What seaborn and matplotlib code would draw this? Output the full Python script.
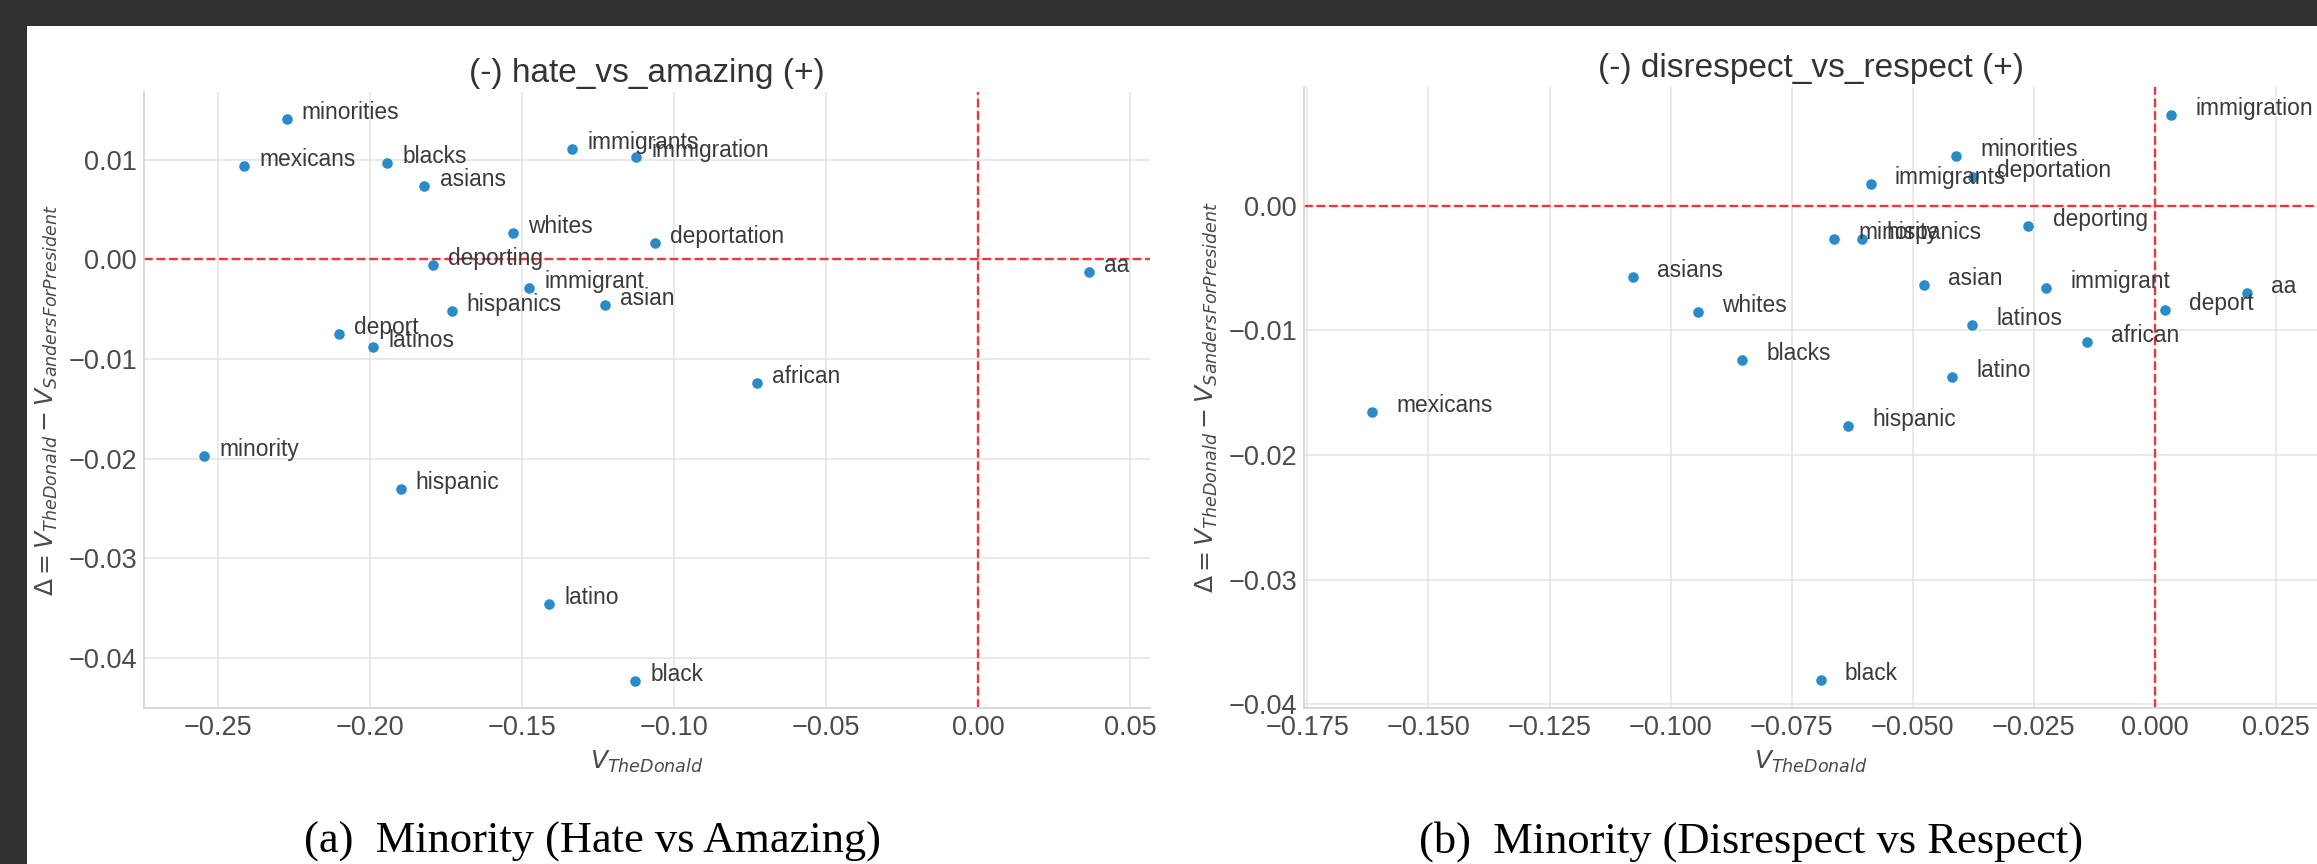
import matplotlib
matplotlib.use("Agg")
import matplotlib.pyplot as plt
from matplotlib.patches import Rectangle
import seaborn as sns

# ── Data ───────────────────────────────────────────────────────────────────────

words_a = ["minorities", "mexicans", "blacks", "asians", "immigrants", "immigration",
           "whites", "deportation", "deporting", "immigrant", "asian", "hispanics",
           "deport", "latinos", "african", "aa", "minority", "hispanic", "latino", "black"]
v_donald_a = [-0.2274, -0.2414, -0.1943, -0.1821, -0.1335, -0.1124,
              -0.1529, -0.1063, -0.1792, -0.1476, -0.1228, -0.1731,
              -0.2103, -0.1989, -0.0727, 0.0364, -0.2546, -0.1899, -0.1410, -0.1128]
delta_a = [0.01406, 0.00931, 0.00965, 0.00737, 0.01101, 0.01025,
           0.00259, 0.00165, -0.00062, -0.00293, -0.00459, -0.00520,
           -0.00754, -0.00878, -0.01242, -0.00125, -0.01971, -0.02305, -0.03455, -0.04225]

words_b = ["immigration", "minorities", "deportation", "immigrants", "deporting",
           "minority", "hispanics", "asians", "asian", "immigrant", "aa", "deport",
           "whites", "latinos", "african", "blacks", "latino", "mexicans", "hispanic", "black"]
v_donald_b = [0.0034, -0.0411, -0.0376, -0.0587, -0.0261,
              -0.0663, -0.0605, -0.1078, -0.0477, -0.0225, 0.0190, 0.0021,
              -0.0944, -0.0377, -0.0140, -0.0852, -0.0418, -0.1617, -0.0634, -0.0690]
delta_b = [0.00725, 0.00402, 0.00233, 0.00172, -0.00164,
           -0.00265, -0.00265, -0.00572, -0.00637, -0.00663, -0.00703, -0.00837,
           -0.00856, -0.00955, -0.01092, -0.01236, -0.01375, -0.01658, -0.01768, -0.03807]

xticks_a = [-0.25, -0.20, -0.15, -0.10, -0.05, 0.00, 0.05]
yticks_a = [-0.04, -0.03, -0.02, -0.01, 0.00, 0.01]
xticks_b = [-0.175, -0.150, -0.125, -0.100, -0.075, -0.050, -0.025, 0.000, 0.025]
yticks_b = [-0.04, -0.03, -0.02, -0.01, 0.00]

titles = ["(-) hate_vs_amazing (+)", "(-) disrespect_vs_respect (+)"]
captions = ["(a)  Minority (Hate vs Amazing)", "(b)  Minority (Disrespect vs Respect)"]

# ── Style ──────────────────────────────────────────────────────────────────────

sns.set_theme(style="whitegrid")
plt.rcParams["font.family"] = ["Liberation Sans", "DejaVu Sans"]
plt.rcParams["mathtext.fontset"] = "dejavusans"
plt.rcParams["axes.edgecolor"] = "#d6d6d6"
plt.rcParams["grid.color"] = "#e3e3e3"

DOT = "#2a8bc8"
RED = "#e8383d"
GRAY = "#4a4a4a"
W, H = 2317, 864

fig = plt.figure(figsize=(W / 100, H / 100), dpi=100)
fig.patch.set_facecolor("white")

ax_a = fig.add_axes([144 / W, 1 - 708 / H, (1150 - 144) / W, (708 - 91.7) / H])
ax_b = fig.add_axes([1304 / W, 1 - 708 / H, (W - 1304) / W, (708 - 87) / H])

panels = [
    (ax_a, words_a, v_donald_a, delta_a, xticks_a, yticks_a, (-0.2743, 0.0566), (-0.0450, 0.0168)),
    (ax_b, words_b, v_donald_b, delta_b, xticks_b, yticks_b, (-0.1757, 0.0335), (-0.0403, 0.00953)),
]

for i, (ax, words, xs, ys, xt, yt, xlim, ylim) in enumerate(panels):
    sns.scatterplot(x=xs, y=ys, ax=ax, color=DOT, s=58, linewidth=0, zorder=3)
    for w, x, y in zip(words, xs, ys):
        ax.text(x + 0.005, y, w, fontsize=16.4, color="#3a3a3a", va="baseline",
                ha="left", zorder=4, clip_on=False)
    ax.axhline(0, color=RED, ls="--", lw=1.7, zorder=2)
    ax.axvline(0, color=RED, ls="--", lw=1.7, zorder=2)

    ax.set_xticks(xt)
    ax.set_yticks(yt)
    ax.set_xlim(*xlim)
    ax.set_ylim(*ylim)
    ax.tick_params(labelsize=19.5, colors=GRAY, pad=5, length=0)
    ax.grid(True, lw=1.1)
    sns.despine(ax=ax)
    for side in ("left", "bottom"):
        ax.spines[side].set_linewidth(1.3)

    ax.set_title(titles[i], fontsize=24, color="#333333", pad=7)
    ax.set_xlabel(r"$V_{TheDonald}$", fontsize=18, color=GRAY, labelpad=6)
    ax.set_ylabel(r"$\Delta = V_{TheDonald} - V_{SandersForPresident}$",
                  fontsize=18, color=GRAY, labelpad=6)

# captions in serif below each panel
fig.text(592 / W, 11 / H, captions[0], family="Liberation Serif", fontsize=32,
         ha="center", va="baseline", color="black")
fig.text(1751 / W, 11 / H, captions[1], family="Liberation Serif", fontsize=32,
         ha="center", va="baseline", color="black")

# dark frame from the screenshot
fig.add_artist(Rectangle((0, 1 - 26 / H), 1, 26 / H, transform=fig.transFigure,
                         facecolor="#313131", edgecolor="none", zorder=10))
fig.add_artist(Rectangle((0, 0), 27 / W, 1, transform=fig.transFigure,
                         facecolor="#313131", edgecolor="none", zorder=10))

fig.savefig("out.png", dpi=100)
plt.close(fig)
